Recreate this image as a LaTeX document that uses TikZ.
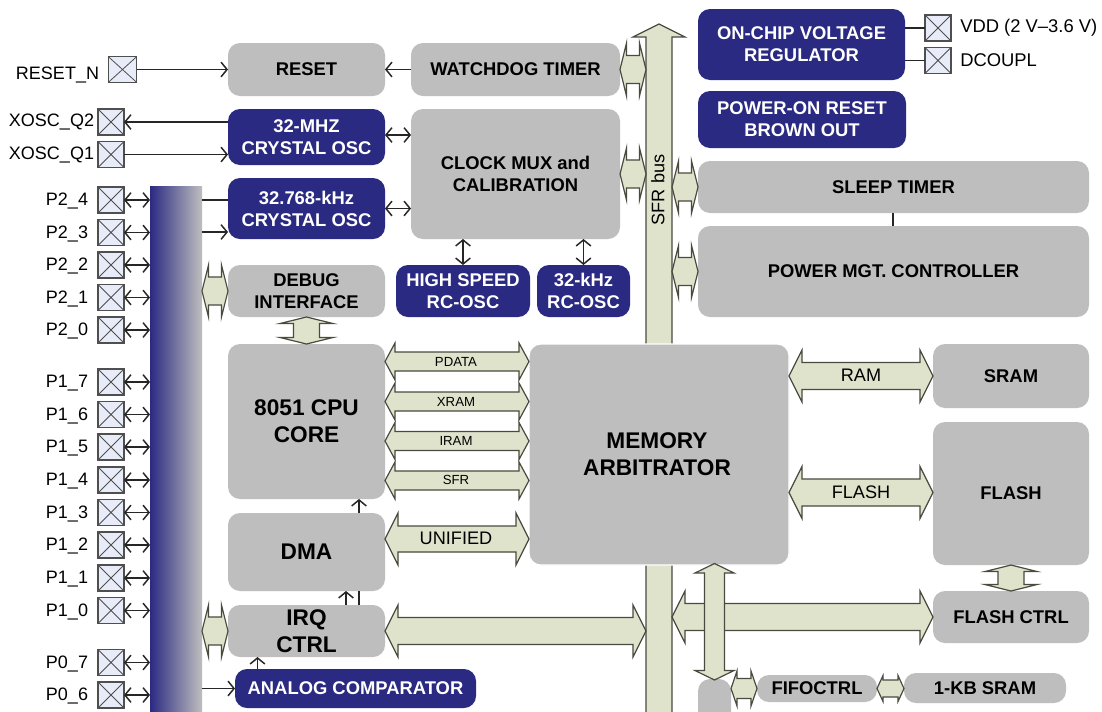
\documentclass[tikz,border=0pt]{standalone}
\usepackage{fontspec}
\setmainfont{Liberation Sans}
\usetikzlibrary{arrows.meta,calc}
\definecolor{navy}{HTML}{2B2A82}
\definecolor{blockgray}{HTML}{BEBEBE}
\definecolor{busfill}{HTML}{DFE3CB}
\definecolor{busedge}{HTML}{4A4A40}
\definecolor{padfill}{HTML}{E8ECF8}
\definecolor{padedge}{HTML}{4F4F4F}
\def\pxu{0.75pt}
\tikzset{
  x=0.75pt,y=-0.75pt,
  thin arrow/.style={draw=black!85,line width=1.1pt,{Straight Barb[length=4.5pt,width=11pt,line width=1.1pt]}-{Straight Barb[length=4.5pt,width=11pt,line width=1.1pt]}},
  to arrow/.style={draw=black!85,line width=1.1pt,-{Straight Barb[length=4.5pt,width=11pt,line width=1.1pt]}},
  plain line/.style={draw=black!85,line width=1.1pt},
  busline/.style={draw=busedge,fill=busfill,line width=0.9pt,line join=miter},
  blockbase/.style={inner sep=0pt,outer sep=0pt,rounded corners=9pt,align=center,font=\fontsize{13.8}{16.4}\selectfont\bfseries},
  graybox/.style={blockbase,fill=blockgray,text=black},
  navybox/.style={blockbase,fill=navy,text=white},
  bigtext/.style={font=\fontsize{17}{20.3}\selectfont\bfseries},
  padbox/.style={draw=padedge,line width=0.8pt,fill=padfill,minimum size=19.5pt,inner sep=0pt,outer sep=0pt,path picture={\draw[padedge,line width=0.6pt] (path picture bounding box.south west) -- (path picture bounding box.north east) (path picture bounding box.north west) -- (path picture bounding box.south east);}},
  pinlabel/.style={font=\fontsize{13.5}{16}\selectfont,inner sep=0pt,text=black},
  buslabel/.style={font=\fontsize{13.6}{16}\selectfont,inner sep=0pt,text=black},
  smalllabel/.style={font=\fontsize{9.9}{12}\selectfont,inner sep=0pt,text=black},
}
\newcommand\blockat[7][]{\node[#6,#1,minimum width={(#4-#2)*0.75pt},minimum height={(#5-#3)*0.75pt}] (#7) at ({(#2+#4)/2},{(#3+#5)/2})}
\newcommand\busH[5]{\draw[busline] let \p1=(#1),\p2=(#2) in
  (\x1,\y1) -- (\x1+#4*\pxu,\y1+#5*\pxu) -- (\x1+#4*\pxu,\y1+#3*\pxu) -- (\x2-#4*\pxu,\y1+#3*\pxu) -- (\x2-#4*\pxu,\y1+#5*\pxu) -- (\x2,\y1)
  -- (\x2-#4*\pxu,\y1-#5*\pxu) -- (\x2-#4*\pxu,\y1-#3*\pxu) -- (\x1+#4*\pxu,\y1-#3*\pxu) -- (\x1+#4*\pxu,\y1-#5*\pxu) -- cycle;}
\newcommand\busV[5]{\draw[busline] let \p1=(#1),\p2=(#2) in
  (\x1,\y1) -- (\x1+#5*\pxu,\y1-#4*\pxu) -- (\x1+#3*\pxu,\y1-#4*\pxu) -- (\x1+#3*\pxu,\y2+#4*\pxu) -- (\x1+#5*\pxu,\y2+#4*\pxu) -- (\x1,\y2)
  -- (\x1-#5*\pxu,\y2+#4*\pxu) -- (\x1-#3*\pxu,\y2+#4*\pxu) -- (\x1-#3*\pxu,\y1-#4*\pxu) -- (\x1-#5*\pxu,\y1-#4*\pxu) -- cycle;}
\begin{document}
\begin{tikzpicture}
\clip (0,0) rectangle (1102,711);
\fill[white] (0,0) rectangle (1102,711);

% SFR bus
\coordinate (sfrL) at (646,100);
\coordinate (sfrR) at (672,100);
\draw[busline] (659,24) -- (685,37) -- (672,37) -- (672,730) -- (646,730) -- (646,37) -- (633,37) -- cycle;
\node[buslabel,rotate=90] (sfrlabel) at (658,190) {SFR bus};

% Port bar
\node[inner sep=0pt,outer sep=0pt,minimum width=39pt,minimum height=395pt,anchor=north west,left color=navy,right color=blockgray] (bar) at (150,186) {};

% Blocks
\blockat{228}{43}{385}{96}{graybox}{reset} {RESET};
\blockat{411}{43}{620}{96}{graybox}{wdt} {WATCHDOG TIMER};
\blockat{228}{109}{385}{165}{navybox}{xmhz} {32-MHZ\\CRYSTAL OSC};
\blockat{228}{178}{385}{239}{navybox}{xkhz} {32.768-kHz\\CRYSTAL OSC};
\blockat{411}{109}{620}{239}{graybox}{clock} {CLOCK MUX and\\CALIBRATION};
\blockat{228}{265}{385}{317}{graybox}{debug} {DEBUG\\INTERFACE};
\blockat{396}{265}{530}{317}{navybox}{hsrc} {HIGH SPEED\\RC-OSC};
\blockat{537}{265}{630}{317}{navybox}{lsrc} {32-kHz\\RC-OSC};
\blockat{698}{9}{905}{80}{navybox}{vreg} {ON-CHIP VOLTAGE\\REGULATOR};
\blockat{698}{91}{906}{148}{navybox}{por} {POWER-ON RESET\\BROWN OUT};
\blockat{698}{161}{1089}{213}{graybox}{sleep} {SLEEP TIMER};
\blockat{698}{226}{1089}{317}{graybox}{pmc} {POWER MGT. CONTROLLER};
\blockat[bigtext]{228}{344}{385}{499}{graybox}{cpu} {8051 CPU\\CORE};
\blockat[bigtext]{228}{513}{385}{591}{graybox}{dma} {DMA};
\blockat[bigtext]{228}{605}{385}{657}{graybox}{irq} {IRQ\\CTRL};
\blockat{235}{669}{476}{708}{navybox}{comp} {ANALOG COMPARATOR};
\blockat[bigtext,draw=white,line width=0.8pt]{529}{344}{789}{565}{graybox}{arb} {MEMORY\hspace*{3pt}\\ARBITRATOR\hspace*{3pt}};
\blockat{933}{344}{1089}{408}{graybox}{sram} {SRAM};
\blockat{933}{422}{1089}{565}{graybox}{flash} {FLASH};
\blockat{933}{591}{1089}{643}{graybox}{fctrl} {FLASH CTRL};
\blockat{757}{675}{877}{702}{graybox}{fifo} {FIFOCTRL};
\blockat{904}{673}{1066}{703}{graybox}{kb} {1-KB SRAM};
\blockat{698}{679}{731}{740}{graybox}{stub} {};

% Pads
\node[padbox,minimum width=21.5pt] (rstn) at (122.5,69.5) {};
\node[padbox] (q2) at (111,122) {};
\node[padbox] (q1) at (111,154.5) {};
\node[pinlabel] (rstnlabel) at (57.5,75.5) {RESET\_N};
\node[pinlabel] (q2label) at (51.5,121.5) {XOSC\_Q2};
\node[pinlabel] (q1label) at (51.5,154.5) {XOSC\_Q1};
\foreach \nm/\yy/\tx in {p24/200/P2\_4,p23/232.5/P2\_3,p22/265/P2\_2,p21/297.5/P2\_1,p20/330/P2\_0,
  p17/382/P1\_7,p16/414.5/P1\_6,p15/447/P1\_5,p14/480/P1\_4,p13/512.5/P1\_3,p12/545/P1\_2,p11/578/P1\_1,p10/610.5/P1\_0,p07/662.5/P0\_7,p06/695/P0\_6}{
  \node[padbox] (\nm) at (111,\yy) {};
  \node[pinlabel] (\nm label) at (67,\yy+1.2) {\tx};
  \draw[thin arrow] (\nm.east) -- (\nm.east -| bar.west);
}
\node[padbox] (vddp) at (938,28) {};
\node[padbox] (dcp) at (938,60.5) {};
\node[pinlabel,anchor=west,font=\fontsize{13.8}{16}\selectfont] (vddl) at (960,27.5) {VDD (2 V–3.6 V)};
\node[pinlabel,anchor=west,font=\fontsize{13.8}{16}\selectfont] (dcl) at (960,60.5) {DCOUPL};

% Thin connectors
\draw[to arrow] (rstn.east) -- (rstn.east -| reset.west);
\draw[to arrow] (wdt.west) -- (reset.east);
\draw[to arrow] (q2.east -| xmhz.west) -- (q2.east);
\draw[to arrow] (q1.east) -- (q1.east -| xmhz.west);
\draw[thin arrow] ([yshift=1.5pt]xmhz.east) -- ([yshift=1.5pt]xmhz.east -| clock.west);
\draw[thin arrow] (xkhz.east) -- (xkhz.east -| clock.west);
\coordinate (kup) at (202,200);
\coordinate (kdn) at (202,232);
\draw[plain line] (kup) -- (kup -| xkhz.west);
\draw[to arrow] (kdn) -- (kdn -| xkhz.west);
\draw[thin arrow] (hsrc.north |- clock.south) -- (hsrc.north);
\draw[thin arrow] (lsrc.north |- clock.south) -- (lsrc.north);
\coordinate (dmaup) at (359,513);
\draw[to arrow] (dmaup) -- (dmaup |- cpu.south);
\coordinate (irqa) at (346,605);
\coordinate (irqb) at (359,605);
\draw[to arrow] (irqa) -- (irqa |- dma.south);
\draw[plain line] (irqb) -- (irqb |- dma.south);
\coordinate (cmpa) at (257.5,669);
\draw[to arrow] (cmpa) -- (cmpa |- irq.south);
\coordinate (cmpb) at (202,688.5);
\draw[to arrow] (cmpb) -- (cmpb -| comp.west);
\draw[plain line] (vreg.east |- vddp.west) -- (vddp.west);
\draw[plain line] (vreg.east |- dcp.west) -- (dcp.west);
\coordinate (stl) at (893,213);
\draw[plain line] (stl) -- (stl |- pmc.north);

% Block arrows
\busH{wdt.east}{wdt.east -| sfrL}{14}{6.5}{26.5}
\busH{clock.east}{clock.east -| sfrL}{14}{6.5}{26}
\busH{sfrR |- sleep.west}{sleep.west}{14}{6.5}{26}
\coordinate (pmca) at (698,271.5);
\busH{sfrR |- pmca}{pmca}{14}{6.5}{26}
\coordinate (dbgl) at (202,291);
\busH{dbgl}{debug.west}{14}{6.5}{26}
\busV{debug.south}{cpu.north}{13}{6.5}{26.5}
\coordinate (pd) at (385,361.5);
\coordinate (xr) at (385,401.5);
\coordinate (ir) at (385,441);
\coordinate (sf) at (385,480.5);
\busH{pd}{pd -| arb.west}{9.5}{10}{18.5}
\busH{xr}{xr -| arb.west}{9.5}{10}{18.5}
\busH{ir}{ir -| arb.west}{9.5}{10}{18.5}
\busH{sf}{sf -| arb.west}{9.5}{10}{18.5}
\node[smalllabel] (pdl) at (456,362) {PDATA};
\node[smalllabel] (xrl) at (456,401.7) {XRAM};
\node[smalllabel] (irl) at (456,440.7) {IRAM};
\node[smalllabel] (sfl) at (456,480) {SFR};
\coordinate (un) at (385,539);
\busH{un}{un -| arb.west}{13}{13}{26}
\node[buslabel] (unl) at (456,538) {UNIFIED};
\coordinate (ramc) at (789,376);
\busH{ramc}{ramc -| sram.west}{13.5}{13}{26}
\node[buslabel] (raml) at (861,375) {RAM};
\coordinate (flc) at (789,492.5);
\busH{flc}{flc -| flash.west}{13.5}{13}{26}
\node[buslabel] (fll) at (861,492) {FLASH};
\busV{flash.south}{fctrl.north}{13}{6.5}{26}
\busH{irq.east}{irq.east -| sfrL}{13.5}{13}{26}
\busH{sfrR |- fctrl.west}{fctrl.west}{13.5}{13}{26}
\coordinate (vt) at (714.5,563.5);
\coordinate (vb) at (714.5,680);
\busV{vt}{vb}{10}{9.5}{19.5}
\busH{stub.east |- fifo.west}{fifo.west}{10}{6}{17.5}
\busH{fifo.east}{fifo.east -| kb.west}{8.5}{6}{13}
\coordinate (irql) at (202,631);
\busH{irql}{irq.west}{14}{6.5}{26}
\end{tikzpicture}
\end{document}
